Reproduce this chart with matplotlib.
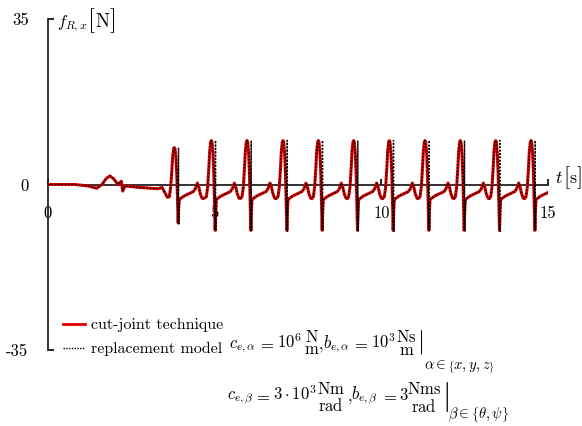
import numpy as np
import matplotlib.pyplot as plt
from matplotlib.lines import Line2D

plt.rcParams['font.family'] = 'cmr10'
plt.rcParams['mathtext.fontset'] = 'cm'
plt.rcParams['axes.unicode_minus'] = False

# start-up phase before the periodic regime (t in s, f in N)
t_start = [0.0, 0.8, 1.2, 1.46, 1.62, 1.75, 1.86, 1.97, 2.1, 2.2, 2.24, 2.31, 2.7, 3.3, 3.42, 3.58]
f_start = [0.0, 0.0, -0.3, -0.8, 0.0, 1.3, 1.8, 1.2, 0.0, 0.7, -1.4, -0.3, -0.6, -0.9, -0.6, -2.7]

# periodic part: time of each peak and amplitude factor of each cycle
peak_t = [3.79, 4.90, 5.97, 7.05, 8.11, 9.17, 10.24, 11.31, 12.37, 13.43, 14.49]
peak_scale = [0.84, 1.0, 1.0, 1.0, 1.0, 1.0, 1.0, 1.0, 1.0, 1.0, 1.0]

# one cycle, read around a peak (offset from peak time, force)
cycle_dt = [-0.15, -0.11, -0.075, -0.05, -0.02, 0.0, 0.02, 0.05, 0.075, 0.097, 0.115,
            0.13, 0.15, 0.18, 0.30, 0.45, 0.57, 0.63, 0.69, 0.735, 0.78, 0.83, 0.87]
cycle_f_red = [-2.6, -0.5, 3.5, 7.0, 9.0, 9.3, 9.0, 6.5, 2.0, -4.0, -9.7,
               -6.0, -3.2, -3.0, -2.4, -1.9, -1.5, -0.9, 0.3, -0.6, -2.0, -2.9, -3.0]
cycle_scaled = [0, 0, 1, 1, 1, 1, 1, 1, 1, 1, 1, 1, 0, 0, 0, 0, 0, 0, 0, 0, 0, 0, 0]
# replacement model: same course plus the sharp spike right after the peak
spike_dt = [0.125, 0.135]
spike_f = [9.3, -9.9]


def build(with_spike):
    t = list(t_start)
    f = list(f_start)
    for tp, s in zip(peak_t, peak_scale):
        pts = [(dt, v * s if sc else v) for dt, v, sc in zip(cycle_dt, cycle_f_red, cycle_scaled)]
        if with_spike:
            pts += [(dt, v * s) for dt, v in zip(spike_dt, spike_f)]
            pts.sort()
        t += [tp + p[0] for p in pts]
        f += [p[1] for p in pts]
    return np.array(t), np.array(f)


t_red, f_red = build(False)
t_blk, f_blk = build(True)

W, H = 582, 426
fig = plt.figure(figsize=(W / 100, H / 100), dpi=100)
ax = fig.add_axes([48 / W, 76 / H, 500 / W, 331 / H])

ax.plot(t_red, f_red, color='#e00000', lw=2.2, zorder=3)
ax.plot(t_blk, f_blk, color='black', lw=1.1, ls=(0, (1, 1.2)), zorder=4)

ax.set_xlim(0, 15)
ax.set_ylim(-35, 35)
ax.spines['top'].set_visible(False)
ax.spines['right'].set_visible(False)
ax.spines['bottom'].set_position(('data', 0))
for sp in ('left', 'bottom'):
    ax.spines[sp].set_linewidth(1.3)
    ax.spines[sp].set_color('#222222')

ax.set_xticks([0, 5, 10, 15], labels=['0', '5', '10', '15'])
ax.set_yticks([-35, 0, 35], labels=['-35', '0', '35'])
ax.tick_params(axis='x', direction='in', length=4, width=1.2, pad=15, labelsize=12)
ax.tick_params(axis='y', direction='in', length=4, width=1.2, pad=14, labelsize=12)

renderer = fig.canvas.get_renderer()


def px_text(x, y, s, size, **kw):
    # place text by pixel position (y measured from the top), baseline aligned
    return fig.text(x / W, 1 - y / H, s, fontsize=size, va='baseline', **kw)


def px_row(x, y, pieces, gap=0.5):
    # lay out pieces of different size one after another on one baseline
    for s, size in pieces:
        txt = px_text(x, y, s, size)
        x = txt.get_window_extent(renderer).x1 + gap
    return x


# axis labels
px_row(57, 27, [(r'$f_{R,x}$', 12), ('[', 18), ('N', 13.5), (']', 18)])
px_row(555, 183, [(r'$t$', 13), ('[', 16), ('s', 13), (']', 16)], gap=0)

handles = [Line2D([], [], color='#e00000', lw=2.0),
           Line2D([], [], color='black', lw=1.0, ls=(0, (1, 1)))]
ax.legend(handles, ['cut-joint technique', 'replacement model'], loc='upper left',
          bbox_to_anchor=(63 / W, 1 - 318 / H), bbox_transform=fig.transFigure,
          frameon=False, borderpad=0, borderaxespad=0, handlelength=1.35,
          handletextpad=0.4, labelspacing=0.62, prop={'family': 'cmr10', 'size': 11.5})


def frac(num, den, bar=False):
    s = r'\genfrac{}{}{0}{0}{\mathrm{%s}}{\mathrm{%s}}' % (num, den)
    if bar:
        s = r'\left.' + s + r'\right|'
    return '$' + s + '$'


# stiffness / damping parameters of the replacement model, piece by piece
eq_size = 12
line1 = [(229, r'$c_{e,\alpha}$'), (258, '$=$'), (277, '$10^6$'), (304, frac('N', 'm')),
         (318, '$,$'), (323, r'$b_{e,\alpha}$'), (352, '$=$'), (371, '$10^3$'), (396, frac('Ns', 'm', True))]
line2 = [(227, r'$c_{e,\beta}$'), (254, '$=$'), (273, r'$3\cdot 10^3$'), (317, frac('Nm', 'rad')),
         (347, '$,$'), (351, r'$b_{e,\beta}$'), (381, '$=$'), (399, '$3$'), (407, frac('Nms', 'rad', True))]
for x, s in line1:
    last1 = px_text(x, 348, s, eq_size)
for x, s in line2:
    last2 = px_text(x, 400, s, eq_size)
x1 = last1.get_window_extent(renderer).x1
x2 = last2.get_window_extent(renderer).x1
px_text(x1 + 1, 369, r'$\alpha\in\left\{x,y,z\right\}$', 10.5)
px_text(x2 - 1, 418, r'$\beta\in\left\{\theta,\psi\right\}$', 10.5)

fig.savefig('out.png', dpi=100)
